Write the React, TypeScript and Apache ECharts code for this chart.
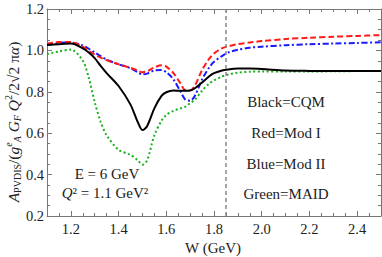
import React, { useEffect, useRef } from "react";
import * as echarts from "echarts";

const W = [1.1, 1.15, 1.2, 1.25, 1.275, 1.3, 1.325, 1.35, 1.4, 1.45, 1.48, 1.5, 1.52, 1.55, 1.58, 1.6, 1.63, 1.66, 1.68, 1.7, 1.72, 1.75, 1.78, 1.8, 1.83, 1.86, 1.9, 1.95, 2.0, 2.1, 2.2, 2.3, 2.4, 2.5];

const blackCQM = [1.026, 1.03, 1.033, 1.01, 0.99, 0.963, 0.925, 0.89, 0.828, 0.738, 0.655, 0.615, 0.635, 0.72, 0.78, 0.798, 0.806, 0.805, 0.805, 0.806, 0.817, 0.845, 0.875, 0.89, 0.902, 0.908, 0.912, 0.912, 0.91, 0.903, 0.901, 0.9, 0.9, 0.9];
const redModI = [1.033, 1.04, 1.04, 1.018, 0.998, 0.98, 0.965, 0.953, 0.933, 0.916, 0.903, 0.894, 0.9, 0.918, 0.928, 0.922, 0.89, 0.84, 0.808, 0.808, 0.83, 0.905, 0.96, 0.985, 1.008, 1.02, 1.03, 1.038, 1.045, 1.055, 1.061, 1.066, 1.07, 1.074];
const blueModII = [1.026, 1.036, 1.038, 1.024, 1.008, 0.99, 0.972, 0.955, 0.933, 0.914, 0.895, 0.884, 0.888, 0.903, 0.905, 0.895, 0.86, 0.8, 0.762, 0.757, 0.781, 0.86, 0.918, 0.945, 0.97, 0.99, 1.003, 1.013, 1.018, 1.025, 1.03, 1.033, 1.036, 1.039];
const greenMAID = [0.982, 0.995, 1.004, 0.95, 0.868, 0.75, 0.655, 0.59, 0.52, 0.495, 0.47, 0.448, 0.47, 0.59, 0.66, 0.688, 0.708, 0.72, 0.728, 0.745, 0.762, 0.805, 0.84, 0.855, 0.872, 0.884, 0.892, 0.897, 0.898, 0.898, 0.898, 0.899, 0.9, 0.9];

const thresholdW = 1.85;
const xMajorTicks = [1.2, 1.4, 1.6, 1.8, 2.0, 2.2, 2.4];
const xMinorTicks = [1.1, 1.15, 1.25, 1.3, 1.35, 1.45, 1.5, 1.55, 1.65, 1.7, 1.75, 1.85, 1.9, 1.95, 2.05, 2.1, 2.15, 2.25, 2.3, 2.35, 2.45, 2.5];
const legendTexts = ["Black=CQM", "Red=Mod I", "Blue=Mod II", "Green=MAID"];

const FONT = "'Liberation Serif', 'DejaVu Serif', serif";

export default function App() {
  const ref = useRef<HTMLDivElement>(null);
  useEffect(() => {
    if (!ref.current) return;
    const chart = echarts.init(ref.current, null, { renderer: "svg" });
    const pairs = (ys: number[]) => W.map((w, i) => [w, ys[i]]);
    const frame = { lineStyle: { color: "#777", width: 1 } };
    const baseX = { type: "value", min: 1.1, max: 2.5, splitLine: { show: false }, gridIndex: 0 };
    const baseY = { type: "value", min: 0.2, max: 1.2, interval: 0.2, splitLine: { show: false } };
    chart.setOption({
      animation: false,
      grid: { left: 47, top: 9, right: 1, bottom: 41, containLabel: false },
      xAxis: [
        {
          ...baseX,
          position: "bottom",
          axisLine: { show: true, ...frame },
          axisTick: { show: true, inside: true, length: 5, customValues: xMajorTicks, lineStyle: { color: "#777" } },
          axisLabel: { show: true, customValues: xMajorTicks, formatter: (v: number) => v.toFixed(1), fontFamily: FONT, fontSize: 14.5, color: "#222", margin: 5 },
        },
        {
          ...baseX,
          position: "bottom",
          axisLine: { show: false },
          axisTick: { show: true, inside: true, length: 3, customValues: xMinorTicks, lineStyle: { color: "#777" } },
          axisLabel: { show: false },
        },
        {
          ...baseX,
          position: "top",
          axisLine: { show: true, ...frame },
          axisTick: { show: true, inside: true, length: 5, customValues: xMajorTicks, lineStyle: { color: "#777" } },
          axisLabel: { show: false },
        },
        {
          ...baseX,
          position: "top",
          axisLine: { show: false },
          axisTick: { show: true, inside: true, length: 3, customValues: xMinorTicks, lineStyle: { color: "#777" } },
          axisLabel: { show: false },
        },
      ],
      yAxis: [
        {
          ...baseY,
          position: "left",
          axisLine: { show: true, ...frame },
          axisTick: { show: true, inside: true, length: 5, lineStyle: { color: "#777" } },
          minorTick: { show: true, splitNumber: 4, length: 3, lineStyle: { color: "#777" } },
          axisLabel: { formatter: (v: number) => v.toFixed(1), fontFamily: FONT, fontSize: 14.5, color: "#222", margin: 3 },
        },
        {
          ...baseY,
          position: "right",
          axisLine: { show: true, ...frame },
          axisTick: { show: true, inside: true, length: 5, lineStyle: { color: "#777" } },
          minorTick: { show: true, splitNumber: 4, length: 3, lineStyle: { color: "#777" } },
          axisLabel: { show: false },
        },
      ],
      series: [
        {
          type: "line", name: "MAID", data: pairs(greenMAID), smooth: 0.3, showSymbol: false,
          lineStyle: { color: "#19b019", width: 2, type: [2, 2.5] },
          markLine: {
            silent: true, symbol: "none", label: { show: false },
            lineStyle: { color: "#888", width: 1.5, type: [4, 3] },
            data: [{ xAxis: thresholdW }],
          },
        },
        { type: "line", name: "Mod II", data: pairs(blueModII), smooth: 0.3, showSymbol: false, lineStyle: { color: "#1a1aff", width: 2, type: [6, 2.5, 2, 2.5] } },
        { type: "line", name: "Mod I", data: pairs(redModI), smooth: 0.3, showSymbol: false, lineStyle: { color: "#ff1a1a", width: 2, type: [6, 3] } },
        { type: "line", name: "CQM", data: pairs(blackCQM), smooth: 0.3, showSymbol: false, lineStyle: { color: "#000", width: 2 } },
      ],
      graphic: [
        {
          type: "text", x: 13, y: 122, rotation: Math.PI / 2,
          style: {
            text: "{it|A}{sub|PVDIS}{n|/(}{it|g}{supi|e}{subi|A}{it| G}{subi|F}{it| Q}{sup|2}{n|/2√2 }{n|π}{it|α}{n|)}",
            align: "center", verticalAlign: "middle", fill: "#222",
            fontFamily: FONT, fontSize: 15.5,
            rich: {
              it: { fontStyle: "italic", fontSize: 15.5, fontFamily: FONT, lineHeight: 19, fill: "#222" },
              n: { fontSize: 15.5, fontFamily: FONT, lineHeight: 19, fill: "#222" },
              sub: { fontSize: 10, fontFamily: FONT, lineHeight: 11, verticalAlign: "bottom", fill: "#222" },
              subi: { fontSize: 10, fontStyle: "italic", fontFamily: FONT, lineHeight: 11, verticalAlign: "bottom", fill: "#222" },
              sup: { fontSize: 10, fontFamily: FONT, lineHeight: 11, verticalAlign: "top", fill: "#222" },
              supi: { fontSize: 10, fontStyle: "italic", fontFamily: FONT, lineHeight: 11, verticalAlign: "top", fill: "#222" },
            },
          },
        },
        {
          type: "text", x: 107, y: 174,
          style: { text: "E = 6 GeV", align: "center", verticalAlign: "middle", fontFamily: FONT, fontSize: 15, fill: "#222" },
        },
        {
          type: "text", x: 105, y: 193,
          style: {
            text: "{it|Q}{n|² = 1.1 GeV²}", align: "center", verticalAlign: "middle", fontFamily: FONT, fontSize: 15, fill: "#222",
            rich: {
              it: { fontStyle: "italic", fontSize: 15, fontFamily: FONT, fill: "#222" },
              n: { fontSize: 15, fontFamily: FONT, fill: "#222" },
            },
          },
        },
        ...legendTexts.map((t, i) => ({
          type: "text", x: 286, y: 101.7 + i * 30.9,
          style: { text: t, align: "center", verticalAlign: "middle", fontFamily: FONT, fontSize: 15, fill: "#222" },
        })),
        {
          type: "text", x: 213, y: 248,
          style: { text: "W (GeV)", align: "center", verticalAlign: "middle", fontFamily: FONT, fontSize: 15, fill: "#222" },
        },
      ],
    });
    return () => chart.dispose();
  }, []);
  return <div ref={ref} style={{ position: "fixed", left: 0, top: 0, width: 382, height: 257, background: "#fff" }} />;
}
